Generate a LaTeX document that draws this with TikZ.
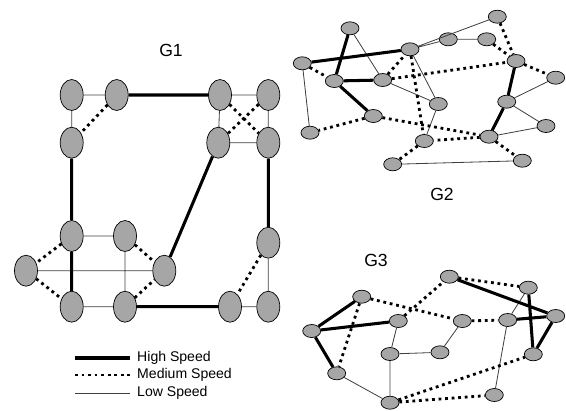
\documentclass[tikz,border=0pt]{standalone}
\usepackage{fontspec}
\setmainfont{Liberation Sans}
\usetikzlibrary{shapes.geometric}

\tikzset{
    bignode/.style={ellipse, draw=black, line width=0.6pt, fill=black!35,
        minimum width=0.69cm, minimum height=0.93cm, inner sep=0pt},
    smallnode/.style={ellipse, draw=black, line width=0.6pt, fill=black!35,
        minimum width=0.54cm, minimum height=0.39cm, inner sep=0pt},
    high/.style={line width=2.6pt, black},
    medium/.style={line width=2.4pt, black, dash pattern=on 2.4pt off 3.2pt},
    low/.style={line width=0.7pt, black!75},
    glabel/.style={font=\fontsize{15}{18}\selectfont},
    legtext/.style={font=\fontsize{12}{14}\selectfont, anchor=west, inner sep=0pt}
}

\begin{document}
\begin{tikzpicture}[x=0.03cm, y=-0.03cm]
            \useasboundingbox (0,0) rectangle (566,410);

            % Graph G1
            \begin{scope}
                \node[glabel] (g1) at (171,50) {G1};

                \node[bignode] (a1) at (71.7,95) {};
                \node[bignode] (a2) at (116.7,95) {};
                \node[bignode] (a3) at (71.7,142.7) {};
                \node[bignode] (b1) at (220,95) {};
                \node[bignode] (b2) at (268.3,95) {};
                \node[bignode] (b3) at (218.3,142.7) {};
                \node[bignode] (b4) at (268.3,142.7) {};
                \node[bignode] (c1) at (71.7,236) {};
                \node[bignode] (c2) at (125,236) {};
                \node[bignode] (c3) at (26,270.7) {};
                \node[bignode] (c4) at (164.3,270.7) {};
                \node[bignode] (c5) at (71.7,306.7) {};
                \node[bignode] (c6) at (125,306.7) {};
                \node[bignode] (d1) at (268.3,242.7) {};
                \node[bignode] (d2) at (230,306.7) {};
                \node[bignode] (d3) at (268.3,306.7) {};

                \draw[low] (a1) -- (a2) (a1) -- (a3) (b1) -- (b2) (b1) -- (b3)
                    (b2) -- (b4) (b3) -- (b4) (c1) -- (c2) (c2) -- (c6)
                    (c3) -- (c4) (c5) -- (c6) (d2) -- (d3) (d1) -- (d3);
                \draw[medium] (a2) -- (a3) (b1) -- (b4) (b2) -- (b3) (c1) -- (c3)
                    (c3) -- (c5) (c2) -- (c4) (c6) -- (c4) (d1) -- (d2);
                \draw[high] (a2) -- (b1) (a3) -- (c1) (c1) -- (c5) (b3) -- (c4)
                    (b4) -- (d1) (c6) -- (d2);
            \end{scope}

            % Graph G2
            \begin{scope}
                \node[glabel] (g2) at (442,194) {G2};

                \node[smallnode] (p1) at (350,28.3) {};
                \node[smallnode] (p2) at (302.3,63.3) {};
                \node[smallnode] (p3) at (334.3,81) {};
                \node[smallnode] (p4) at (382.7,80) {};
                \node[smallnode] (p5) at (410,49.3) {};
                \node[smallnode] (p6) at (448.3,39.3) {};
                \node[smallnode] (p7) at (486.7,39.3) {};
                \node[smallnode] (p8) at (497.3,16.7) {};
                \node[smallnode] (p9) at (516,61) {};
                \node[smallnode] (p10) at (555.7,77.7) {};
                \node[smallnode] (p11) at (506.7,101.7) {};
                \node[smallnode] (p12) at (546,126) {};
                \node[smallnode] (p13) at (489,136.7) {};
                \node[smallnode] (p14) at (522.3,160.7) {};
                \node[smallnode] (p15) at (438.3,104) {};
                \node[smallnode] (p16) at (373.3,116) {};
                \node[smallnode] (p17) at (310,132.7) {};
                \node[smallnode] (p18) at (424.3,141) {};
                \node[smallnode] (p19) at (392.7,164.3) {};

                \draw[low] (p1) -- (p4) (p2) -- (p17) (p4) -- (p15) (p5) -- (p6)
                    (p5) -- (p8) (p5) -- (p15) (p6) -- (p7) (p11) -- (p10)
                    (p11) -- (p12) (p13) -- (p12) (p15) -- (p18) (p19) -- (p14);
                \draw[medium] (p2) -- (p3) (p4) -- (p5) (p4) -- (p9) (p5) -- (p18)
                    (p7) -- (p9) (p8) -- (p9) (p9) -- (p10) (p13) -- (p14)
                    (p13) -- (p18) (p16) -- (p17) (p16) -- (p13) (p18) -- (p19);
                \draw[high] (p1) -- (p3) (p2) -- (p5) (p3) -- (p4) (p3) -- (p16)
                    (p9) -- (p11) (p11) -- (p13);
            \end{scope}

            % Graph G3
            \begin{scope}
                \node[glabel] (g3) at (376,260) {G3};

                \node[smallnode] (m1) at (361.7,296.7) {};
                \node[smallnode] (m2) at (311.7,331) {};
                \node[smallnode] (m3) at (336.7,373.3) {};
                \node[smallnode] (m4) at (398.3,321) {};
                \node[smallnode] (m5) at (390,354) {};
                \node[smallnode] (m6) at (390,402.7) {};
                \node[smallnode] (m7) at (440,352.3) {};
                \node[smallnode] (m8) at (462.3,321) {};
                \node[smallnode] (m9) at (449.3,276.7) {};
                \node[smallnode] (m10) at (507.7,320) {};
                \node[smallnode] (m11) at (528.3,287.7) {};
                \node[smallnode] (m12) at (555.7,316) {};
                \node[smallnode] (m13) at (533.3,354.3) {};
                \node[smallnode] (m14) at (494.3,395) {};

                \draw[low] (m3) -- (m6) (m4) -- (m5) (m5) -- (m6) (m5) -- (m7)
                    (m7) -- (m8) (m10) -- (m11) (m10) -- (m14);
                \draw[medium] (m1) -- (m3) (m1) -- (m8) (m4) -- (m9) (m8) -- (m10)
                    (m9) -- (m11) (m6) -- (m13) (m6) -- (m14);
                \draw[high] (m1) -- (m2) (m2) -- (m4) (m2) -- (m3) (m9) -- (m12)
                    (m10) -- (m12) (m11) -- (m13) (m12) -- (m13);
            \end{scope}

            % Legend
            \node[legtext] (lhigh) at (137,358) {High Speed};
            \node[legtext] (lmedium) at (137,375) {Medium Speed};
            \node[legtext] (llow) at (137,393) {Low Speed};
            \coordinate (lhigh0) at (75,358);
            \coordinate (lmedium0) at (75,375);
            \coordinate (llow0) at (75,393);
            \draw[high] (lhigh0) -- ([xshift=-0.2cm]lhigh.west);
            \draw[medium] (lmedium0) -- ([xshift=-0.2cm]lmedium.west);
            \draw[low] (llow0) -- ([xshift=-0.2cm]llow.west);
\end{tikzpicture}
\end{document}
